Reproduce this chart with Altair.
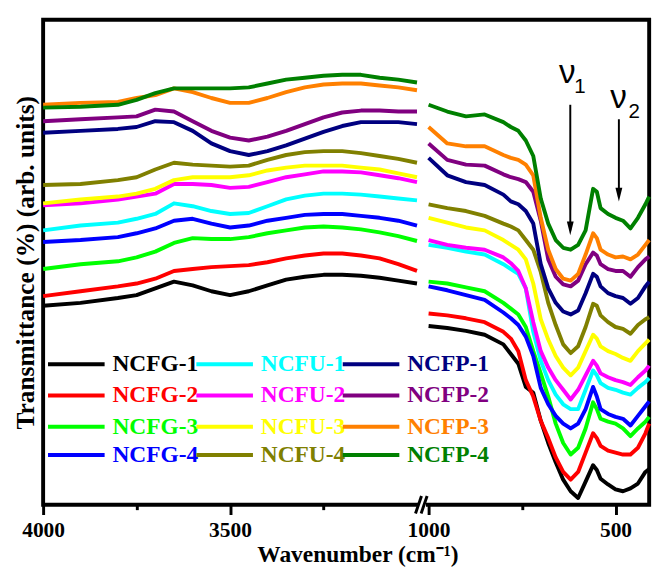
import altair as alt
import pandas as pd

# ---------------- data ----------------
series = ["NCFG-1", "NCFG-2", "NCFG-3", "NCFG-4",
          "NCFU-1", "NCFU-2", "NCFU-3", "NCFU-4",
          "NCFP-1", "NCFP-2", "NCFP-3", "NCFP-4"]
colors = ["#000000", "#ff0000", "#00ff00", "#0000ff",
          "#00ffff", "#ff00ff", "#ffff00", "#808000",
          "#000080", "#800080", "#ff8000", "#008000"]

# high-wavenumber window (4000-3000 cm-1)
wn_high = [4000, 3900, 3800, 3750, 3700, 3650, 3600, 3550, 3500, 3450,
           3400, 3350, 3300, 3250, 3200, 3150, 3100, 3050, 3000]
# low-wavenumber window (1000-410 cm-1)
wn_low = [1000, 950, 900, 850, 800, 780, 760, 740, 720, 700, 680, 660, 640,
          620, 600, 580, 560, 550, 540, 520, 500, 480, 460, 440, 420, 410]

ncfg1_high = [232, 235, 240, 243, 250, 257, 253, 247, 243, 247, 253, 259, 262, 264, 264, 263, 261, 258, 255]
ncfg2_high = [242, 247, 252, 255, 260, 268, 270, 272, 273, 274, 277, 281, 284, 286, 286, 284, 281, 275, 268]
ncfg3_high = [270, 275, 278, 282, 288, 297, 302, 301, 301, 303, 307, 310, 313, 314, 313, 311, 308, 304, 299]
ncfg4_high = [298, 300, 303, 307, 312, 320, 322, 317, 313, 315, 320, 323, 326, 327, 327, 325, 323, 320, 315]
ncfu1_high = [310, 315, 318, 322, 327, 338, 335, 330, 327, 328, 335, 342, 346, 348, 348, 347, 345, 343, 341]
ncfu2_high = [336, 338, 342, 345, 348, 358, 358, 357, 354, 355, 360, 365, 368, 371, 371, 370, 367, 364, 360]
ncfu3_high = [338, 342, 345, 348, 353, 362, 365, 365, 365, 367, 372, 375, 377, 377, 377, 375, 373, 369, 365]
ncfu4_high = [357, 358, 362, 365, 373, 380, 378, 377, 376, 377, 383, 388, 391, 392, 392, 390, 387, 384, 380]
ncfp1_high = [411, 413, 415, 417, 423, 422, 413, 400, 392, 388, 392, 398, 405, 412, 418, 422, 422, 422, 420]
ncfp2_high = [423, 425, 427, 428, 435, 433, 423, 413, 406, 403, 407, 413, 420, 427, 432, 434, 434, 433, 433]
ncfp3_high = [440, 442, 443, 447, 450, 457, 453, 447, 442, 442, 447, 453, 458, 461, 462, 462, 460, 458, 455]
ncfp4_high = [437, 438, 440, 445, 452, 457, 457, 457, 457, 458, 462, 466, 468, 470, 471, 471, 468, 466, 463]

ncfg1_low = [211, 209, 206, 202, 192, 182, 172, 148, 142, 113, 90, 70, 52, 40, 33, 50, 67, 62, 53, 47, 42, 40, 43, 48, 60, 63]
ncfg2_low = [224, 222, 219, 215, 205, 198, 185, 155, 138, 113, 95, 75, 60, 52, 60, 80, 100, 95, 87, 82, 80, 78, 78, 85, 100, 110]
ncfg3_low = [257, 255, 251, 247, 235, 229, 223, 210, 185, 162, 138, 110, 90, 78, 85, 105, 132, 125, 115, 112, 110, 105, 97, 105, 112, 117]
ncfg4_low = [252, 248, 243, 238, 225, 219, 212, 200, 180, 147, 130, 118, 110, 105, 110, 125, 148, 138, 125, 120, 117, 115, 108, 118, 128, 133]
ncfu1_low = [295, 292, 288, 285, 275, 270, 265, 250, 205, 175, 155, 140, 130, 125, 125, 145, 165, 160, 152, 147, 145, 142, 140, 147, 153, 157]
ncfu2_low = [300, 295, 292, 290, 282, 276, 268, 250, 215, 185, 168, 155, 145, 135, 145, 160, 175, 170, 162, 158, 155, 153, 150, 158, 165, 170]
ncfu3_low = [323, 318, 313, 310, 300, 295, 290, 280, 255, 218, 197, 180, 168, 160, 168, 185, 202, 198, 190, 185, 182, 178, 175, 185, 193, 197]
ncfu4_low = [337, 333, 330, 325, 317, 314, 310, 300, 290, 267, 235, 212, 192, 183, 190, 210, 234, 232, 222, 215, 210, 208, 203, 212, 218, 220]
ncfp1_low = [385, 367, 360, 357, 347, 340, 337, 330, 317, 275, 250, 235, 226, 223, 227, 245, 265, 262, 252, 245, 242, 240, 234, 240, 252, 257]
ncfp2_low = [400, 383, 378, 377, 368, 365, 363, 360, 350, 320, 280, 262, 254, 252, 258, 275, 287, 284, 275, 270, 268, 268, 262, 272, 280, 283]
ncfp3_low = [417, 400, 397, 397, 388, 385, 383, 378, 367, 323, 290, 270, 260, 258, 265, 285, 307, 302, 290, 285, 282, 283, 280, 285, 295, 300]
ncfp4_low = [440, 433, 428, 430, 422, 417, 413, 403, 387, 343, 317, 300, 292, 290, 295, 310, 353, 350, 333, 327, 323, 320, 312, 323, 337, 345]

high_vals = [ncfg1_high, ncfg2_high, ncfg3_high, ncfg4_high, ncfu1_high, ncfu2_high,
             ncfu3_high, ncfu4_high, ncfp1_high, ncfp2_high, ncfp3_high, ncfp4_high]
low_vals = [ncfg1_low, ncfg2_low, ncfg3_low, ncfg4_low, ncfu1_low, ncfu2_low,
            ncfu3_low, ncfu4_low, ncfp1_low, ncfp2_low, ncfp3_low, ncfp4_low]

# axis ticks (wavenumbers) and annotations
major_ticks = [4000, 3500, 1000, 500]
minor_ticks = [3750, 3250, 750]
nu_labels = ["ν", "1", "ν", "2"]
nu_wn = [629, 595, 492, 450]
nu_t = [473, 458, 447, 432]
nu_fs = [34, 21, 34, 21]
arrow_wn = [621, 491]
arrow_top = [440, 425]
arrow_tip = [305, 340]

# ---------------- broken-axis mapping ----------------
GAP = 31  # width of the axis break in axis units


def to_pos(w):
    return 4000 - w if w >= 2000 else 1000 + GAP + (1000 - w)


rows = []
for s, hv, lv in zip(series, high_vals, low_vals):
    for w, v in zip(wn_high, hv):
        rows.append(dict(series=s, panel="high", pos=to_pos(w), t=v))
    for w, v in zip(wn_low, lv):
        rows.append(dict(series=s, panel="low", pos=to_pos(w), t=v))
df = pd.DataFrame(rows)

tick_pos = [to_pos(w) for w in major_ticks + minor_ticks]
minor_pos = [to_pos(w) for w in minor_ticks]
label_expr = " : ".join(
    f"datum.value == {to_pos(w)} ? '{w}'" for w in major_ticks) + " : ''"
minor_test = " || ".join(f"datum.value == {p}" for p in minor_pos)

SERIF = "Liberation Serif"
XMAX = to_pos(410)

X = alt.X("pos:Q", scale=alt.Scale(domain=[0, XMAX], nice=False, zero=False),
          axis=alt.Axis(values=tick_pos, labelExpr=label_expr, grid=False, domain=False,
                        tickSize={"condition": {"test": minor_test, "value": 5}, "value": 10},
                        tickWidth=3, tickColor="black", labelOverlap=False, labelFlush=False,
                        labelFont=SERIF, labelFontSize=22, labelFontWeight="bold",
                        labelColor="black", labelPadding=6,
                        titleFont=SERIF, titleFontSize=24, titleFontWeight="bold",
                        titleColor="black", titlePadding=2, titleX=322),
          title="Wavenumber (cm⁻¹)")
Y = alt.Y("t:Q", scale=alt.Scale(domain=[26, 528], nice=False, zero=False),
          axis=alt.Axis(labels=False, ticks=False, domain=False, grid=False,
                        titleFont=SERIF, titleFontSize=26, titleFontWeight="bold",
                        titleColor="black", titlePadding=5),
          title="Transmittance (%) (arb. units)")

# legend layout: 3 columns x 4 rows
col_x = [3, 155, 305]
row_c = [351, 383, 415, 444]
SYM = 58

layers = []
for i, (s, c) in enumerate(zip(series, colors)):
    col, row = i // 4, i % 4
    layers.append(
        alt.Chart(df[df.series == s]).mark_line(strokeWidth=4, strokeJoin="round").encode(
            x=X, y=Y, detail="panel:N",
            color=alt.Color("series:N", scale=alt.Scale(domain=[s], range=[c]),
                            legend=alt.Legend(orient="none", legendX=col_x[col],
                                              legendY=row_c[row] - SYM / 2,
                                              title=None, padding=0,
                                              symbolType="stroke", symbolSize=SYM * SYM,
                                              symbolStrokeWidth=4,
                                              labelFont=SERIF, labelFontSize=24,
                                              labelFontWeight="bold", labelColor=c,
                                              labelOffset=6)))
    )

arrows = pd.DataFrame(dict(pos=[to_pos(w) for w in arrow_wn], t=arrow_top,
                           t2=[v + 5 for v in arrow_tip], th=[v + 7 for v in arrow_tip]))
layers.append(alt.Chart(arrows).mark_rule(color="black", strokeWidth=2).encode(
    x=X, y=Y, y2=alt.Y2("t2:Q")))
layers.append(alt.Chart(arrows).mark_point(shape="M-0.5,-1L0.5,-1L0,1Z", filled=True,
                                           color="black", opacity=1, size=196).encode(
    x=X, y=alt.Y("th:Q", scale=alt.Scale(domain=[26, 528], nice=False, zero=False))))

nu = pd.DataFrame(dict(pos=[to_pos(w) for w in nu_wn], t=nu_t, txt=nu_labels, fs=nu_fs))
layers.append(alt.Chart(nu).mark_text(font="Liberation Sans", color="black",
                                      baseline="middle", align="center").encode(
    x=X, y=Y, text="txt:N", size=alt.Size("fs:Q", scale=None, legend=None)))

# axis-break mark
brk_cover = pd.DataFrame(dict(pos=[1003], pos2=[1024], t=[22], t2=[30]))
layers.append(alt.Chart(brk_cover).mark_rect(color="white").encode(
    x=X, x2="pos2:Q", y=Y, y2="t2:Q"))
brk = pd.DataFrame(dict(pos=[996, 1011], pos2=[1012, 1027], t=[17, 17], t2=[35, 35]))
layers.append(alt.Chart(brk).mark_rule(color="black", strokeWidth=3).encode(
    x=X, x2="pos2:Q", y=Y, y2="t2:Q"))

chart = alt.layer(*layers).resolve_scale(color="independent").properties(
    width=621, height=497
).configure_view(stroke="black", strokeWidth=4)

chart.save("out.html", embed_options={"renderer": "svg", "actions": False})
